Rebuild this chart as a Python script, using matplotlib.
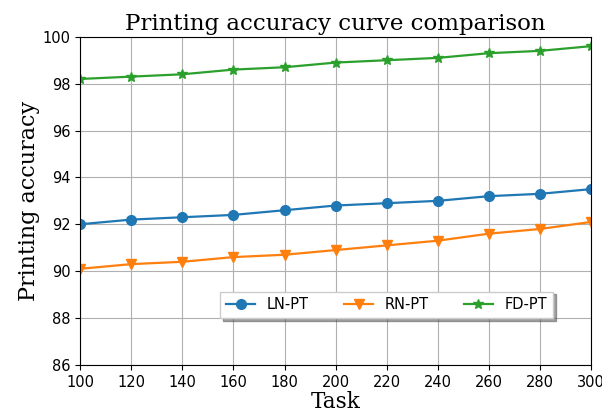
import matplotlib
matplotlib.use('Agg')
import matplotlib.pyplot as plt

# task counts and accuracies
tasks = [100, 120, 140, 160, 180, 200, 220, 240, 260, 280, 300]
ln_pt = [92.0, 92.2, 92.3, 92.4, 92.6, 92.8, 92.9, 93.0, 93.2, 93.3, 93.5]
rn_pt = [90.1, 90.3, 90.4, 90.6, 90.7, 90.9, 91.1, 91.3, 91.6, 91.8, 92.1]
fd_pt = [98.2, 98.3, 98.4, 98.6, 98.7, 98.9, 99.0, 99.1, 99.3, 99.4, 99.6]

fig = plt.figure(figsize=(6.02, 4.18), dpi=100)
ax = fig.add_axes([0.133, 0.127, 0.849, 0.785])

ax.plot(tasks, ln_pt, marker='o', markersize=7, linewidth=1.6, label='LN-PT')
ax.plot(tasks, rn_pt, marker='v', markersize=7, linewidth=1.6, label='RN-PT')
ax.plot(tasks, fd_pt, marker='*', markersize=7, linewidth=1.6, label='FD-PT')

ax.set_xlim(100, 300)
ax.set_ylim(86, 100)
ax.set_xticks(tasks)
ax.set_yticks(range(86, 101, 2))
ax.tick_params(labelsize=10.5)
ax.grid(True, color='#b0b0b0', linewidth=0.8)

serif = ['DejaVu Serif']
ax.set_title('Printing accuracy curve comparison', fontsize=16.5, family=serif,
             fontweight='light', pad=5)
ax.set_xlabel('Task', fontsize=15.5, family=serif, fontweight='light', labelpad=1)
ax.set_ylabel('Printing accuracy', fontsize=16, family=serif, fontweight='light',
              labelpad=2)

ax.legend(loc='center', bbox_to_anchor=(0.6, 0.183), ncol=3, shadow=True,
          fontsize=10.5, columnspacing=2.4, fancybox=False, framealpha=1)

fig.savefig('out.png', dpi=100)
